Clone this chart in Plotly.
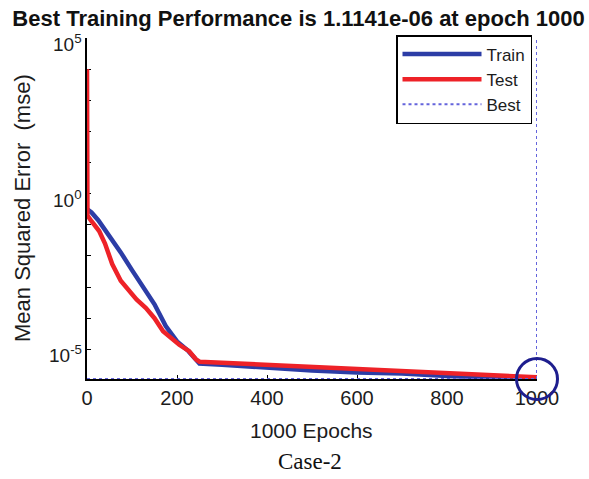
import math
import plotly.graph_objects as go

# ---- data ----
train_epochs = [0, 10, 25, 50, 75, 100, 125, 150, 175, 200, 225, 245, 250,
                300, 400, 500, 600, 700, 800, 900, 1000]
train_mse = [3.2e-1, 2.5e-1, 1.4e-1, 4.5e-2, 1.3e-2, 3.5e-3, 1.0e-3, 2.8e-4,
             5.6e-5, 1.8e-5, 8.9e-6, 4.5e-6, 3.5e-6, 3.2e-6, 2.5e-6, 2.1e-6,
             1.8e-6, 1.66e-6, 1.4e-6, 1.26e-6, 1.1141e-6]

test_epochs = [0, 1, 10, 27, 40, 56, 75, 93, 110, 131, 150, 169, 190, 205,
               227, 242, 250, 300, 400, 500, 600, 700, 800, 900, 1000]
test_mse = [1.0e4, 2.0e-1, 1.3e-1, 6.3e-2, 2.5e-2, 5.5e-3, 1.6e-3, 7.4e-4,
            4.0e-4, 2.1e-4, 1.0e-4, 3.8e-5, 2.0e-5, 1.4e-5, 8.7e-6, 4.8e-6,
            4.0e-6, 3.7e-6, 3.2e-6, 2.6e-6, 2.3e-6, 2.0e-6, 1.74e-6, 1.4e-6,
            1.26e-6]

best_epoch = 1000
best_perf = 1.1141e-6
y_top = 1e5

x_tickvals = [0, 200, 400, 600, 800, 1000]
y_decades = list(range(-5, 6))
y_label_exps = [5, 0, -5]
y_label_texts = ["10<sup>5</sup>", "10<sup>0</sup>", "10<sup>-5</sup>"]

title_text = "Best Training Performance is 1.1141e-06 at epoch 1000"
x_title = "1000 Epochs"
y_title = "Mean Squared Error\u00a0 (mse)"
caption = "Case-2"

# ---- figure ----
BLUE = "#2c3da6"
RED = "#ee2228"
BEST = "#6464dc"
NAVY = "#1e1e8e"
FONT = "Liberation Sans, Arial, sans-serif"
TXT = "#1c1c1c"

# plot area in pixels: x 87..537, y 38..379
PL, PR, PT, PB = 87, 537, 38, 379
PW, PH = PR - PL, PB - PT


def px_x(p):
    return (p - PL) / PW


def px_y(p):
    return (PB - p) / PH


fig = go.Figure()
fig.add_trace(go.Scatter(x=train_epochs, y=train_mse, mode="lines", name="Train",
                         line=dict(color=BLUE, width=4.5)))
fig.add_trace(go.Scatter(x=test_epochs, y=test_mse, mode="lines", name="Test",
                         line=dict(color=RED, width=4.5)))
fig.add_trace(go.Scatter(x=[0, best_epoch, best_epoch], y=[best_perf, best_perf, y_top],
                         mode="lines", name="Best",
                         line=dict(color=BEST, width=2, dash="dot")))
fig.add_trace(go.Scatter(x=[best_epoch], y=[best_perf], mode="markers", showlegend=False,
                         cliponaxis=False,
                         marker=dict(symbol="circle-open", size=41,
                                     line=dict(color=NAVY, width=3), color=NAVY)))

annotations = [
    dict(text=x_title, xref="paper", yref="paper", x=px_x(311), y=px_y(430),
         xanchor="center", yanchor="middle", showarrow=False,
         font=dict(family=FONT, size=21, color=TXT)),
    dict(text=y_title, xref="paper", yref="paper", x=px_x(22), y=px_y(208),
         xanchor="center", yanchor="middle", showarrow=False, textangle=-90,
         font=dict(family=FONT, size=22, color=TXT)),
    dict(text=caption, xref="paper", yref="paper", x=px_x(310), y=px_y(461),
         xanchor="center", yanchor="middle", showarrow=False,
         font=dict(family="Liberation Serif, Times New Roman, serif",
                   size=23, color="#111111")),
]
for e, t in zip(y_label_exps, y_label_texts):
    annotations.append(dict(text=t, xref="paper", yref="y", x=0, y=e,
                            xanchor="right", yanchor="middle", xshift=-3, yshift=-5,
                            showarrow=False, font=dict(family=FONT, size=19, color=TXT)))

fig.update_layout(
    width=589, height=479,
    margin=dict(l=PL, r=589 - PR, t=PT, b=479 - PB),
    paper_bgcolor="white", plot_bgcolor="white",
    font=dict(family=FONT, color=TXT, size=20),
    title=dict(text="<b>" + title_text + "</b>", x=298.5 / 589, xanchor="center",
               y=1 - 18 / 479, yanchor="middle",
               font=dict(family=FONT, size=22, color="#111111")),
    showlegend=True,
    legend=dict(x=px_x(532), xanchor="right", y=px_y(35), yanchor="top",
                bgcolor="white", bordercolor="black", borderwidth=1.5,
                font=dict(family=FONT, size=17, color=TXT),
                itemwidth=79, tracegroupgap=0),
    annotations=annotations,
)

fig.update_xaxes(range=[0, 1000], tickvals=x_tickvals, ticks="inside", ticklen=4,
                 tickcolor="black", showline=True, linecolor="black", linewidth=2,
                 showgrid=False, zeroline=False, layer="below traces",
                 tickfont=dict(size=20, color=TXT))
fig.update_yaxes(type="log", range=[math.log10(best_perf), 5],
                 tickvals=[10.0 ** k for k in y_decades],
                 showticklabels=False,
                 ticks="inside", ticklen=4, tickcolor="black",
                 showline=True, linecolor="black", linewidth=2,
                 showgrid=False, zeroline=False, layer="below traces")

fig.write_html("out.html")
